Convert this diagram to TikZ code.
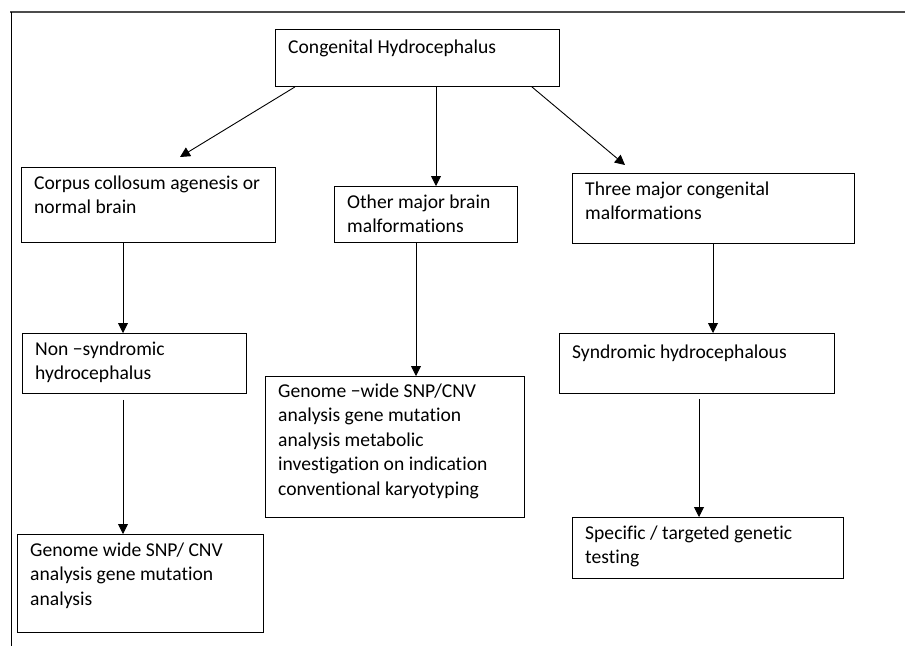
\documentclass[tikz,border=0pt]{standalone}
\usepackage{fontspec}
\setmainfont{Carlito}[Ligatures=NoCommon]
\usepackage{tikz}
\usetikzlibrary{arrows.meta, positioning, calc}

\begin{document}
\begin{tikzpicture}[x=1pt, y=-1pt,
    box/.style 2 args={draw, line width=0.9pt, anchor=north west, minimum width=#1, minimum height=#2, inner sep=0pt},
    txt/.style={anchor=north west, align=left, inner sep=0pt, xshift=13pt, yshift=-8.5pt,
      font=\fontsize{19.6}{24.5}\selectfont, execute at begin node=\strut},
    arr/.style={line width=0.9pt, -{Triangle[length=10pt, width=10pt]}}]
    \useasboundingbox (0,0) rectangle (905,646);
    % frame
    \draw[black!70, line width=1.6pt] (10,12) -- (905,12);
    \draw[line width=0.9pt] (11,12) -- (11,646);
    % boxes
    \node[box={284}{57}, label={[txt, yshift=1.5pt]north west:Congenital Hydrocephalus}] (congenital) at (275,29) {};
    \node[box={254}{75}, label={[txt]north west:Corpus collosum agenesis or\\normal brain}] (corpus) at (21,167) {};
    \node[box={183}{56}, label={[txt]north west:Other major brain\\malformations}] (other) at (334,186) {};
    \node[box={282}{70}, label={[txt]north west:Three major congenital\\malformations}] (three) at (572,173) {};
    \node[box={224}{60}, label={[txt]north west:Non −syndromic\\hydrocephalus}] (nonsyn) at (22,333) {};
    \node[box={259}{141}, label={[txt, yshift=1pt]north west:Genome −wide SNP/CNV\\analysis gene mutation\\analysis metabolic\\investigation on indication\\conventional karyotyping}] (gwide) at (265,376) {};
    \node[box={275}{60}, label={[txt]north west:Syndromic hydrocephalous}] (syndromic) at (559,333) {};
    \node[box={246}{98}, label={[txt]north west:Genome wide SNP/ CNV\\analysis gene mutation\\analysis}] (gwsnp) at (17,534) {};
    \node[box={271}{61}, label={[txt]north west:Specific / targeted genetic\\testing}] (specific) at (572,517) {};
    % arrows
    \draw[arr] ($(congenital.south west)+(20,0)$) -- ($(corpus.north west)+(159,-10)$);
    \draw[arr] ($(congenital.south west)+(161,0)$) -- ($(other.north west)+(102,0)$);
    \draw[arr] ($(congenital.south east)+(-28,0)$) -- ($(three.north west)+(53,-8)$);
    \draw[arr] ($(corpus.south west)+(102,0)$) -- ($(nonsyn.north west)+(101,0)$);
    \draw[arr] ($(other.south west)+(82,0)$) -- ($(gwide.north west)+(151,0)$);
    \draw[arr] ($(three.south west)+(141,0)$) -- ($(syndromic.north west)+(154,0)$);
    \draw[arr] ($(nonsyn.south west)+(101,6)$) -- ($(gwsnp.north west)+(106,0)$);
    \draw[arr] ($(syndromic.south west)+(140,5)$) -- ($(specific.north west)+(127,0)$);
\end{tikzpicture}
\end{document}
